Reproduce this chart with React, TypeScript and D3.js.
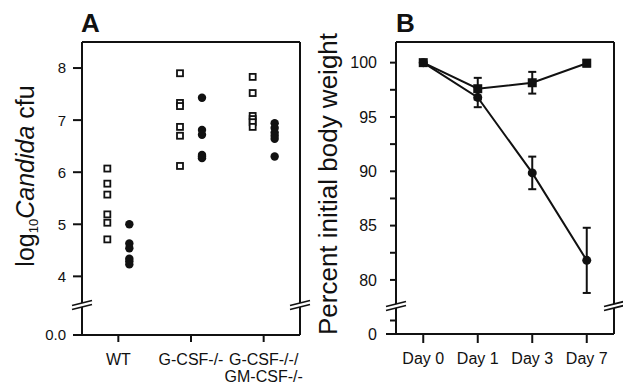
import { useEffect, useRef } from "react";
import * as d3 from "d3";

// Panel A: log10 Candida cfu per mouse (open squares = one group, filled circles = other)
const groups = ["WT", "G-CSF-/-", "G-CSF-/-/GM-CSF-/-"];
const groupLines = [["WT"], ["G-CSF-/-"], ["G-CSF-/-/", "GM-CSF-/-"]];
const wtOpen = [6.07, 5.78, 5.57, 5.19, 5.03, 4.71];
const wtFilled = [5.0, 4.63, 4.54, 4.34, 4.29, 4.23];
const gcsfOpen = [7.9, 7.33, 7.27, 6.87, 6.7, 6.12];
const gcsfFilled = [7.43, 6.81, 6.72, 6.33, 6.3, 6.27];
const dkoOpen = [7.83, 7.52, 7.08, 7.02, 6.96, 6.87];
const dkoFilled = [6.94, 6.85, 6.76, 6.7, 6.64, 6.3];
const aTicks = [4, 5, 6, 7, 8];

// Panel B: percent initial body weight
const days = ["Day 0", "Day 1", "Day 3", "Day 7"];
const ctrlMean = [100, 97.6, 98.15, 99.95];
const ctrlErr = [0, 1.0, 1.0, 0.3];
const koMean = [100, 96.8, 89.85, 81.8];
const koErr = [0, 0.9, 1.5, 3.0];
const bMajor = [80, 85, 90, 95, 100];
const bMinor = [82.5, 87.5, 92.5, 97.5];

const FONT = "'Liberation Sans', Arial, Helvetica, sans-serif";
const INK = "#111";

export default function App() {
  const svgRef = useRef<SVGSVGElement | null>(null);

  useEffect(() => {
    const svg = d3.select(svgRef.current);
    svg.selectAll("*").remove();

    const breakMark = (g: any, x: number, y: number) => {
      g.append("rect").attr("x", x - 2).attr("y", y - 2).attr("width", 4).attr("height", 4).attr("fill", "#fff");
      [-2, 2].forEach((o) => {
        g.append("line")
          .attr("x1", x - 10).attr("y1", y + o + 2.5)
          .attr("x2", x + 10).attr("y2", y + o - 2.5)
          .attr("stroke", INK).attr("stroke-width", 1.8);
      });
    };

    const frame = (g: any, left: number, right: number, top: number, bottom: number, brk: number, tickLen: number) => {
      const line = (x1: number, y1: number, x2: number, y2: number) =>
        g.append("line").attr("x1", x1).attr("y1", y1).attr("x2", x2).attr("y2", y2)
          .attr("stroke", INK).attr("stroke-width", 2);
      line(left, top, right, top);
      line(left - tickLen, bottom, right, bottom);
      [left, right].forEach((x) => {
        line(x, top, x, brk - 2);
        line(x, brk + 2, x, bottom);
        breakMark(g, x, brk);
      });
    };

    // ---------- Panel A ----------
    const a = { left: 82, right: 300, top: 42, bottom: 335, brk: 305 };
    const ga = svg.append("g");
    const xA = d3.scaleBand().domain(groups).range([a.left, a.right]);
    const yA = d3.scaleLinear().domain([3.45, 8.5]).range([a.brk, a.top]);
    frame(ga, a.left, a.right, a.top, a.bottom, a.brk, 9);

    aTicks.forEach((t) => {
      ga.append("line").attr("x1", a.left - 9).attr("x2", a.left).attr("y1", yA(t)).attr("y2", yA(t))
        .attr("stroke", INK).attr("stroke-width", 2);
      ga.append("text").attr("x", a.left - 16).attr("y", yA(t)).attr("dy", "0.36em")
        .attr("text-anchor", "end").style("font", `15px ${FONT}`).attr("fill", INK).text(String(t));
    });
    ga.append("text").attr("x", a.left - 16).attr("y", a.bottom).attr("dy", "0.36em")
      .attr("text-anchor", "end").style("font", `15px ${FONT}`).attr("fill", INK).text("0.0");

    groups.forEach((gname, i) => {
      const cx = xA(gname)! + xA.bandwidth() / 2;
      ga.append("line").attr("x1", cx).attr("x2", cx).attr("y1", a.bottom).attr("y2", a.bottom + 7)
        .attr("stroke", INK).attr("stroke-width", 2);
      const t = ga.append("text").attr("text-anchor", "middle").style("font", `16px ${FONT}`).attr("fill", INK);
      groupLines[i].forEach((s, j) => {
        t.append("tspan").attr("x", cx).attr("y", 365 + j * 17).text(s);
      });
    });

    const openSets = [wtOpen, gcsfOpen, dkoOpen];
    const filledSets = [wtFilled, gcsfFilled, dkoFilled];
    groups.forEach((gname, i) => {
      const cx = xA(gname)! + xA.bandwidth() / 2;
      ga.selectAll(null).data(openSets[i]).join("rect")
        .attr("x", cx - 11 - 3).attr("y", (d: number) => yA(d) - 3)
        .attr("width", 6).attr("height", 6)
        .attr("fill", "#fff").attr("stroke", INK).attr("stroke-width", 1.8);
      ga.selectAll(null).data(filledSets[i]).join("circle")
        .attr("cx", cx + 11).attr("cy", (d: number) => yA(d)).attr("r", 4.2)
        .attr("fill", INK);
    });

    const la = ga.append("text").attr("transform", "translate(34,176) rotate(-90)")
      .attr("text-anchor", "middle").style("font", `25px ${FONT}`).attr("fill", INK);
    la.append("tspan").text("log");
    la.append("tspan").attr("dy", 4).style("font-size", "13px").text("10");
    la.append("tspan").attr("dy", -4).style("font-style", "italic").text("Candida");
    la.append("tspan").text(" cfu");

    ga.append("text").attr("x", 81).attr("y", 32).style("font", `bold 26px ${FONT}`).attr("fill", INK).text("A");

    // ---------- Panel B ----------
    const b = { left: 396, right: 614, top: 42, bottom: 334, brk: 306 };
    const gb = svg.append("g");
    const xB = d3.scaleBand().domain(days).range([b.left, b.right]);
    const yB = d3.scaleLinear().domain([77.6, 101.9]).range([b.brk, b.top]);
    const yB0 = d3.scaleLinear().domain([0, 5]).range([b.bottom, b.brk + 1]);
    frame(gb, b.left, b.right, b.top, b.bottom, b.brk, 10);

    const tickB = (y: number) =>
      gb.append("line").attr("x1", b.left - 6).attr("x2", b.left).attr("y1", y).attr("y2", y)
        .attr("stroke", INK).attr("stroke-width", 2);
    bMajor.forEach((t) => {
      tickB(yB(t));
      gb.append("text").attr("x", 377).attr("y", yB(t)).attr("dy", "0.36em")
        .attr("text-anchor", "end").style("font", `16px ${FONT}`).attr("fill", INK).text(String(t));
    });
    bMinor.forEach((t) => tickB(yB(t)));
    tickB(yB0(2.5));
    gb.append("text").attr("x", 377).attr("y", yB0(0)).attr("dy", "0.36em")
      .attr("text-anchor", "end").style("font", `16px ${FONT}`).attr("fill", INK).text("0");

    days.forEach((d) => {
      const cx = xB(d)! + xB.bandwidth() / 2;
      gb.append("line").attr("x1", cx).attr("x2", cx).attr("y1", b.bottom).attr("y2", b.bottom + 9)
        .attr("stroke", INK).attr("stroke-width", 2);
      gb.append("text").attr("x", cx).attr("y", 364).attr("text-anchor", "middle")
        .style("font", `16px ${FONT}`).attr("fill", INK).text(d);
    });

    const px = (i: number) => xB(days[i])! + xB.bandwidth() / 2;
    const line = d3.line<number>().x((_, i) => px(i)).y((d) => yB(d));

    [
      { mean: koMean, err: koErr, shape: "circle" },
      { mean: ctrlMean, err: ctrlErr, shape: "square" },
    ].forEach((s) => {
      gb.append("path").attr("d", line(s.mean)).attr("fill", "none")
        .attr("stroke", INK).attr("stroke-width", 2);
      s.mean.forEach((m, i) => {
        const e = s.err[i];
        if (e > 0) {
          const x = px(i);
          const y1 = yB(m + e), y2 = yB(m - e);
          gb.append("line").attr("x1", x).attr("x2", x).attr("y1", y1).attr("y2", y2)
            .attr("stroke", INK).attr("stroke-width", 2);
          [y1, y2].forEach((y) =>
            gb.append("line").attr("x1", x - 4).attr("x2", x + 4).attr("y1", y).attr("y2", y)
              .attr("stroke", INK).attr("stroke-width", 2));
        }
        if (s.shape === "circle") {
          gb.append("circle").attr("cx", px(i)).attr("cy", yB(m)).attr("r", 4.5).attr("fill", INK);
        } else {
          gb.append("rect").attr("x", px(i) - 4.5).attr("y", yB(m) - 4.5)
            .attr("width", 9).attr("height", 9).attr("fill", INK);
        }
      });
    });

    gb.append("text").attr("transform", "translate(337,184) rotate(-90)")
      .attr("text-anchor", "middle").style("font", `26px ${FONT}`).attr("fill", INK)
      .text("Percent initial body weight");

    gb.append("text").attr("x", 396).attr("y", 32).style("font", `bold 26px ${FONT}`).attr("fill", INK).text("B");
  }, []);

  return (
    <svg
      ref={svgRef}
      width={623}
      height={385}
      style={{ position: "absolute", left: 0, top: 0, background: "#fff" }}
    />
  );
}
